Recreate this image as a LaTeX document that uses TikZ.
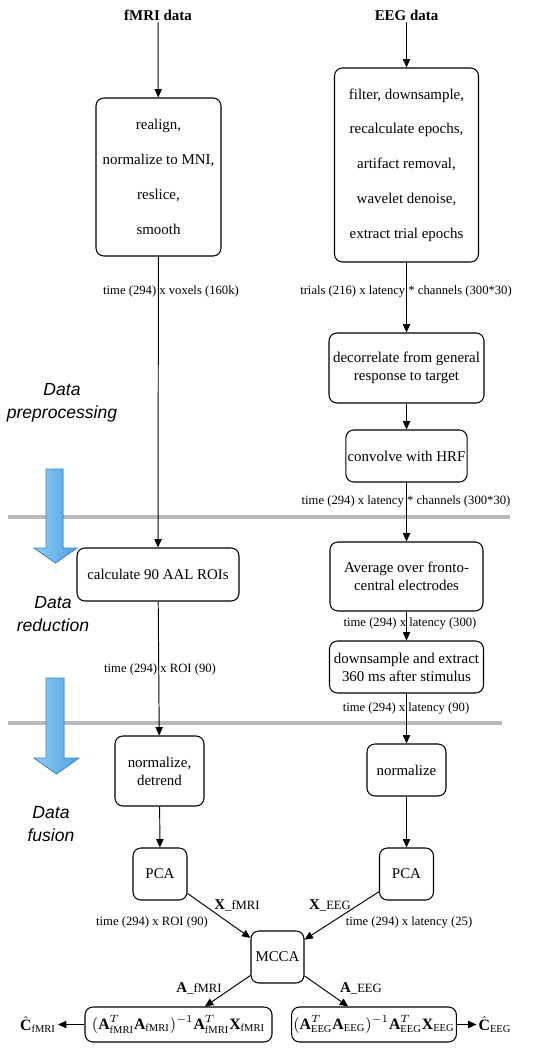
\documentclass[tikz,border=0pt]{standalone}
\usepackage{fontspec}
\setmainfont{Liberation Serif}
\newfontfamily\stagefont{Liberation Sans}
\usetikzlibrary{arrows.meta}
\definecolor{bluelight}{RGB}{140,205,245}
\definecolor{bluedark}{RGB}{80,160,225}
\definecolor{blueedge}{RGB}{60,140,210}
\newcommand\subF{\mathrm{fMRI}}
\newcommand\subE{\mathrm{EEG}}
\tikzset{
	box/.style={draw, line width=0.6pt, rounded corners=4.5pt, align=center, inner sep=1pt, font=\fontsize{8.5}{10.2}\selectfont},
	sz/.style 2 args={minimum width=#1*0.02cm, minimum height=#2*0.02cm},
	lbl/.style={font=\fontsize{7.2}{8.6}\selectfont, inner sep=0pt},
	head/.style={font=\fontsize{8.5}{10.2}\selectfont\bfseries, inner sep=1pt},
	stage/.style={font=\stagefont\itshape\fontsize{10}{13}\selectfont, align=center},
	band/.style={line width=2.3pt, gray!55},
	bigarrow/.style={draw=blueedge, line width=0.5pt, left color=bluelight, right color=bluedark},
	flow/.style={->, line width=0.55pt}
}
\begin{document}
\begin{tikzpicture}[x=0.02cm, y=-0.02cm, >={Triangle[length=4.8pt,width=4.2pt]}]
	\useasboundingbox (0,0) rectangle (535,1050);
	% stage separators
	\draw[band] (8,517)--(510,517);
	\draw[band] (8,723)--(502,723);
	\filldraw[bigarrow] (46,469)--(63,469)--(63,548)--(77,548)--(55.5,563)--(34,548)--(46,548)--cycle;
	\filldraw[bigarrow] (46,678)--(64,678)--(64,758)--(79,758)--(56.5,774)--(34,758)--(46,758)--cycle;
	\node[stage] (stPre) at (62,403) {Data\\preprocessing};
	\node[stage] (stRed) at (53,614) {Data\\reduction};
	\node[stage] (stFus) at (51,824) {Data\\fusion};
	% fMRI branch
	\node[head] (fmri) at (158,15) {fMRI data};
	\node[box, sz={125}{158}, font=\fontsize{8.5}{19.8}\selectfont] (prepF) at (158.5,177) {realign,\\normalize to MNI,\\reslice,\\smooth};
	\node[box, sz={162}{53}] (roiF) at (158,574.5) {calculate 90 AAL ROIs};
	\node[box, sz={89}{70}] (normF) at (159.5,771) {normalize,\\detrend};
	\node[box, sz={54}{52}] (pcaF) at (160,874) {PCA};
	% EEG branch
	\node[head] (eeg) at (406.5,15) {EEG data};
	\node[box, sz={144}{194}, font=\fontsize{8.5}{19.8}\selectfont] (prepE) at (406.5,165) {filter, downsample,\\recalculate epochs,\\artifact removal,\\wavelet denoise,\\extract trial epochs};
	\node[box, sz={155}{70}] (decor) at (406.5,368) {decorrelate from general\\response to target};
	\node[box, sz={121}{52}] (conv) at (406.5,456) {convolve with HRF};
	\node[box, sz={153}{69}] (avgE) at (406.5,576.5) {Average over fronto-\\central electrodes};
	\node[box, sz={154}{52}] (dsE) at (406.5,667) {downsample and extract\\360 ms after stimulus};
	\node[box, sz={79}{52}] (normE) at (406.5,770) {normalize};
	\node[box, sz={54}{52}] (pcaE) at (406.5,874) {PCA};
	% fusion
	\node[box, sz={53}{52}] (mcca) at (277.5,957) {MCCA};
	\node[box, sz={187}{35}, font=\fontsize{9}{10.8}\selectfont] (outF) at (178.5,1024.5) {$(\mathbf{A}^T_{\subF}\mathbf{A}_{\subF})^{-1}\mathbf{A}^T_{\subF}\mathbf{X}_{\subF}$};
	\node[box, sz={164}{35}, font=\fontsize{9}{10.8}\selectfont] (outE) at (374,1024.5) {$(\mathbf{A}^T_{\subE}\mathbf{A}_{\subE})^{-1}\mathbf{A}^T_{\subE}\mathbf{X}_{\subE}$};
	\node[font=\fontsize{9}{10.8}\selectfont, inner sep=1pt] (cF) at (38,1024.5) {$\hat{\mathbf{C}}_{\subF}$};
	\node[font=\fontsize{9}{10.8}\selectfont, inner sep=1pt] (cE) at (495,1024.5) {$\hat{\mathbf{C}}_{\subE}$};
	% dimension labels
	\node[lbl] (dimF1) at (171,291) {time (294) x voxels (160k)};
	\node[lbl] (dimF2) at (160,669) {time (294) x ROI (90)};
	\node[lbl] (dimF3) at (152,922) {time (294) x ROI (90)};
	\node[lbl] (dimE1) at (406,291) {trials (216) x latency * channels (300*30)};
	\node[lbl] (dimE2) at (406,501) {time (294) x latency * channels (300*30)};
	\node[lbl] (dimE3) at (410,623) {time (294) x latency (300)};
	\node[lbl] (dimE4) at (406,708) {time (294) x latency (90)};
	\node[lbl] (dimE5) at (409,922) {time (294) x latency (25)};
	\node[lbl] (xF) at (237,905) {{\fontsize{8.5}{10}\selectfont\bfseries X}\_fMRI};
	\node[lbl] (xE) at (330,905) {{\fontsize{8.5}{10}\selectfont\bfseries X}\_EEG};
	\node[lbl] (aF) at (199,988) {{\fontsize{8.5}{10}\selectfont\bfseries A}\_fMRI};
	\node[lbl] (aE) at (361,988) {{\fontsize{8.5}{10}\selectfont\bfseries A}\_EEG};
	% connectors
	\draw[flow] (fmri)--(prepF);
	\draw[flow] (prepF)--(roiF);
	\draw[flow] (roiF)--(normF);
	\draw[flow] (normF)--(pcaF);
	\draw[flow] (pcaF)--(mcca);
	\draw[flow] (eeg)--(prepE);
	\draw[flow] (prepE)--(decor);
	\draw[flow] (decor)--(conv);
	\draw[flow] (conv)--(avgE);
	\draw[flow] (avgE)--(dsE);
	\draw[flow] (dsE)--(normE);
	\draw[flow] (normE)--(pcaE);
	\draw[flow] (pcaE)--(mcca);
	\draw[flow] (mcca)--(outF);
	\draw[flow] (mcca)--(outE);
	\draw[flow] (outF)--(cF);
	\draw[flow] (outE)--(cE);
\end{tikzpicture}
\end{document}
